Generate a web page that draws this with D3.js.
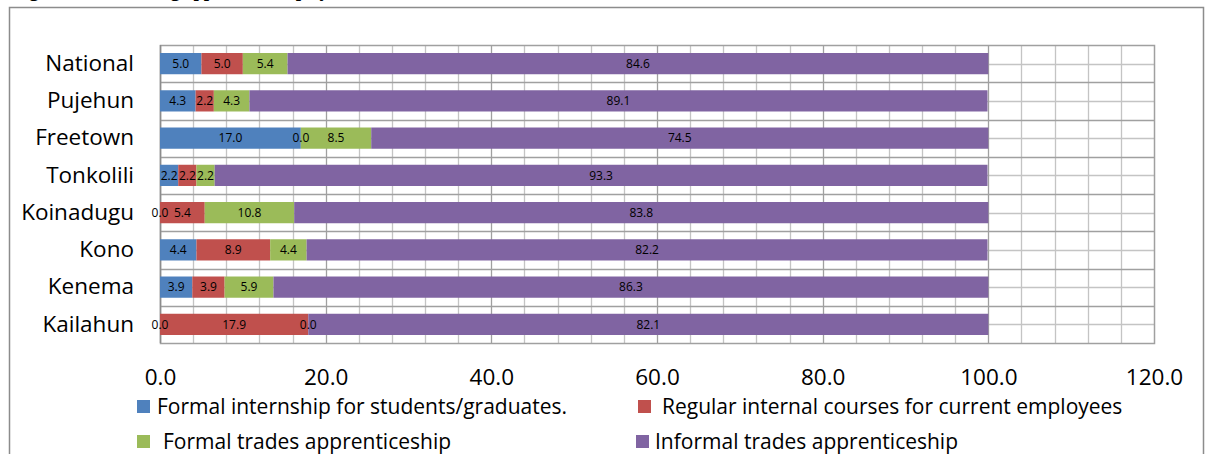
<!DOCTYPE html>
<html>
<head>
<meta charset="utf-8">
<script src="https://cdn.jsdelivr.net/npm/d3@7"></script>
<style>
  html, body { margin: 0; padding: 0; background: #fff; }
  svg { display: block; font-family: "Open Sans", Lato, sans-serif; }
</style>
</head>
<body>
<svg id="chart" width="1208" height="454"></svg>
<script>
// Training / apprenticeship type by district (percent of respondents)
const categories = ["National", "Pujehun", "Freetown", "Tonkolili", "Koinadugu", "Kono", "Kenema", "Kailahun"];
const seriesNames = [
  "Formal internship for students/graduates.",
  "Regular internal courses for current employees",
  "Formal trades apprenticeship",
  "Informal trades apprenticeship"
];
const formalInternship   = [5.0, 4.3, 17.0, 2.2, 0.0, 4.4, 3.9, 0.0];
const internalCourses    = [5.0, 2.2, 0.0, 2.2, 5.4, 8.9, 3.9, 17.9];
const formalApprentice   = [5.4, 4.3, 8.5, 2.2, 10.8, 4.4, 5.9, 0.0];
const informalApprentice = [84.6, 89.1, 74.5, 93.3, 83.8, 82.2, 86.3, 82.1];
const xTicks = [0, 20, 40, 60, 80, 100, 120];
const colors = ["#4F81BD", "#C0504D", "#9BBB59", "#8064A2"];

const seriesValues = [formalInternship, internalCourses, formalApprentice, informalApprentice];
const keys = ["s0", "s1", "s2", "s3"];
const table = categories.map((c, i) => {
  const row = { category: c };
  keys.forEach((k, j) => row[k] = seriesValues[j][i]);
  return row;
});
const stacked = d3.stack().keys(keys)(table);

const svg = d3.select("#chart");
const fmt = d3.format(".1f");

// outer frame of the figure box
svg.append("path")
  .attr("d", "M9.5,460 V7.5 H1203.5 V460")
  .attr("fill", "none").attr("stroke", "#8c8c8c").attr("stroke-width", 1.5);

// caption sitting above the visible area
svg.append("text")
  .attr("x", 14).attr("y", -3)
  .attr("font-family", "Cambria, 'Liberation Serif', serif")
  .attr("font-weight", "bold").attr("font-size", 18)
  .text("Figure 3.10: Training apprenticeship by district");

const plot = { left: 160, right: 1154, top: 45, bottom: 343 };

const x = d3.scaleLinear().domain([0, 120]).range([plot.left, plot.right]);
const y = d3.scaleBand().domain(categories).range([plot.top, plot.bottom]).padding(0);
const barH = y.bandwidth() * 0.57;
const barOff = (y.bandwidth() - barH) / 2;

const grid = svg.append("g");
// minor vertical grid (every 4 units)
grid.selectAll("line.vmin").data(d3.range(0, 121, 4).filter(v => v % 20 !== 0))
  .join("line")
  .attr("x1", d => Math.round(x(d)) + 0.5).attr("x2", d => Math.round(x(d)) + 0.5)
  .attr("y1", plot.top).attr("y2", plot.bottom)
  .attr("stroke", "#c4c4c4").attr("stroke-width", 1.3);
// minor horizontal grid (band centres)
grid.selectAll("line.hmin").data(categories)
  .join("line")
  .attr("x1", plot.left).attr("x2", plot.right)
  .attr("y1", d => Math.round(y(d) + y.bandwidth() / 2) + 0.5)
  .attr("y2", d => Math.round(y(d) + y.bandwidth() / 2) + 0.5)
  .attr("stroke", "#c4c4c4").attr("stroke-width", 1.3);
// major horizontal grid (band edges)
grid.selectAll("line.hmaj").data(categories.slice(1))
  .join("line")
  .attr("x1", plot.left).attr("x2", plot.right)
  .attr("y1", d => Math.round(y(d)) + 0.5).attr("y2", d => Math.round(y(d)) + 0.5)
  .attr("stroke", "#a0a0a0").attr("stroke-width", 1.3);
// major vertical grid (every 20 units)
grid.selectAll("line.vmaj").data(xTicks.slice(1, -1))
  .join("line")
  .attr("x1", d => Math.round(x(d)) + 0.5).attr("x2", d => Math.round(x(d)) + 0.5)
  .attr("y1", plot.top).attr("y2", plot.bottom)
  .attr("stroke", "#a0a0a0").attr("stroke-width", 1.3);
// plot border
grid.append("rect")
  .attr("x", plot.left + 0.5).attr("y", plot.top + 0.5)
  .attr("width", plot.right - plot.left).attr("height", plot.bottom - plot.top)
  .attr("fill", "none").attr("stroke", "#a0a0a0").attr("stroke-width", 1.5);
grid.append("line")
  .attr("x1", plot.left + 0.5).attr("x2", plot.left + 0.5)
  .attr("y1", plot.top).attr("y2", plot.bottom)
  .attr("stroke", "#8c8c8c").attr("stroke-width", 1.5);

// stacked bars
const layers = svg.append("g").selectAll("g").data(stacked).join("g")
  .attr("fill", (d, i) => colors[i]);
layers.selectAll("rect").data(d => d).join("rect")
  .attr("x", d => x(d[0]))
  .attr("y", d => y(d.data.category) + barOff)
  .attr("width", d => x(d[1]) - x(d[0]))
  .attr("height", barH);

// value labels centred on each segment
const labels = svg.append("g").attr("font-size", 12).attr("fill", "#000")
  .attr("text-anchor", "middle");
stacked.forEach(layer => {
  layer.forEach(d => {
    labels.append("text")
      .attr("x", x((d[0] + d[1]) / 2))
      .attr("y", y(d.data.category) + y.bandwidth() / 2)
      .attr("dy", "0.36em")
      .text(fmt(d[1] - d[0]));
  });
});

// category axis
const yAxis = svg.append("g")
  .attr("transform", `translate(${plot.left - 26},0)`)
  .call(d3.axisLeft(y).tickSize(0).tickPadding(0));
yAxis.select(".domain").remove();
yAxis.selectAll("text").attr("font-size", 22.5).attr("fill", "#000")
  .attr("font-family", "'Open Sans', Lato, sans-serif");

// value axis
const xAxis = svg.append("g")
  .attr("transform", `translate(0,${plot.bottom})`)
  .call(d3.axisBottom(x).tickValues(xTicks).tickFormat(fmt).tickSize(0).tickPadding(26));
xAxis.select(".domain").remove();
xAxis.selectAll("text").attr("font-size", 22.5).attr("fill", "#000")
  .attr("font-family", "'Open Sans', Lato, sans-serif");

// legend
const legendItems = [
  { x: 137, y: 400, tx: 157, name: seriesNames[0], color: colors[0] },
  { x: 638, y: 400, tx: 662, name: seriesNames[1], color: colors[1] },
  { x: 137, y: 435, tx: 163, name: seriesNames[2], color: colors[2] },
  { x: 636, y: 435, tx: 655, name: seriesNames[3], color: colors[3] }
];
const legend = svg.append("g");
legendItems.forEach(it => {
  legend.append("rect").attr("x", it.x).attr("y", it.y).attr("width", 13).attr("height", 13)
    .attr("fill", it.color);
  legend.append("text").attr("x", it.tx).attr("y", it.y + 6.5).attr("dy", "0.36em")
    .attr("font-size", 21).attr("fill", "#000").text(it.name);
});
</script>
</body>
</html>
